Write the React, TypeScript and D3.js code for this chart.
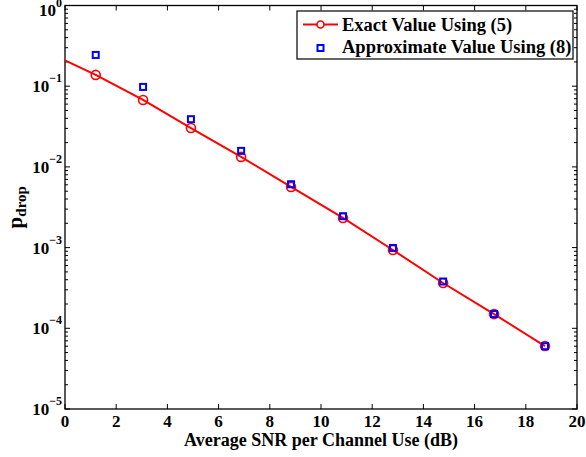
import React, { useEffect, useRef } from "react"
import * as d3 from "d3"

// SNR (dB) where markers sit
const snr = [1.2, 3.05, 4.92, 6.88, 8.83, 10.86, 12.81, 14.77, 16.76, 18.75]
// exact p_drop, eq. (5)
const exact = [0.138, 0.0675, 0.0303, 0.0133, 0.00564, 0.00233, 0.000933, 0.000364, 0.00015, 0.0000603]
// approximation, eq. (8)
const approx = [0.244, 0.098, 0.039, 0.0158, 0.0061, 0.00245, 0.00099, 0.00038, 0.00015, 0.00006]
// exact curve also starts at 0 dB
const curveStart = { x: 0, y: 0.209 }

const xTicks = [0, 2, 4, 6, 8, 10, 12, 14, 16, 18, 20]
const yExps = [0, -1, -2, -3, -4, -5]

const W = 586
const H = 457
const FONT = "Liberation Serif"

export default function App() {
  const ref = useRef<SVGSVGElement>(null)

  useEffect(() => {
    const svg = d3.select(ref.current)
    svg.selectAll("*").remove()

    const margin = { top: 5.5, right: 9, bottom: 48, left: 65 }
    const x = d3.scaleLinear().domain([0, 20]).range([margin.left, W - margin.right])
    const y = d3.scaleLog().domain([1e-5, 1]).range([H - margin.bottom, margin.top])
    const [x0, x1] = x.range()
    const [y0, y1] = y.range()

    svg.append("rect").attr("width", W).attr("height", H).attr("fill", "#fff")

    const g = svg.append("g").attr("stroke", "#000").attr("stroke-width", 1)

    // x ticks, bottom and top, pointing inward
    xTicks.forEach(t => {
      g.append("line").attr("x1", x(t)).attr("x2", x(t)).attr("y1", y0).attr("y2", y0 - 5)
      g.append("line").attr("x1", x(t)).attr("x2", x(t)).attr("y1", y1).attr("y2", y1 + 5)
    })

    // y ticks, major and minor on both sides
    yExps.forEach(e => {
      const v = Math.pow(10, e)
      g.append("line").attr("x1", x0).attr("x2", x0 + 5).attr("y1", y(v)).attr("y2", y(v))
      g.append("line").attr("x1", x1).attr("x2", x1 - 5).attr("y1", y(v)).attr("y2", y(v))
      if (e < 0) {
        d3.range(2, 10).forEach(m => {
          const mv = m * v
          g.append("line").attr("x1", x0).attr("x2", x0 + 3).attr("y1", y(mv)).attr("y2", y(mv))
          g.append("line").attr("x1", x1).attr("x2", x1 - 3).attr("y1", y(mv)).attr("y2", y(mv))
        })
      }
    })

    g.append("rect")
      .attr("x", x0)
      .attr("y", y1)
      .attr("width", x1 - x0)
      .attr("height", y0 - y1)
      .attr("fill", "none")
      .attr("stroke-width", 1.3)

    const txt = svg
      .append("g")
      .attr("font-family", FONT)
      .attr("font-weight", "bold")
      .attr("fill", "#000")

    txt
      .selectAll(".xt")
      .data(xTicks)
      .join("text")
      .attr("x", d => x(d))
      .attr("y", y0 + 18)
      .attr("text-anchor", "middle")
      .attr("font-size", 17)
      .text(d => d)

    yExps.forEach(e => {
      const t = txt
        .append("text")
        .attr("x", x0 - 3)
        .attr("y", y(Math.pow(10, e)) + (e === 0 ? 10 : 6))
        .attr("text-anchor", "end")
        .attr("font-size", 17)
      t.append("tspan").text("10")
      t.append("tspan")
        .attr("dy", e === 0 ? -9 : -10)
        .attr("font-size", 12)
        .text(e === 0 ? "0" : "\u2212" + -e)
    })

    txt
      .append("text")
      .attr("x", (x0 + x1) / 2)
      .attr("y", 446)
      .attr("text-anchor", "middle")
      .attr("font-size", 18)
      .text("Average SNR per Channel Use (dB)")

    const yl = txt
      .append("text")
      .attr("transform", `translate(22,${(y0 + y1) / 2}) rotate(-90)`)
      .attr("text-anchor", "middle")
      .attr("font-size", 21)
    yl.append("tspan").text("p")
    yl.append("tspan").attr("dy", 4).attr("font-size", 15).text("drop")

    // exact curve
    const curve = [curveStart, ...snr.map((s, i) => ({ x: s, y: exact[i] }))]
    const line = d3
      .line<{ x: number; y: number }>()
      .x(d => x(d.x))
      .y(d => y(d.y))
    svg
      .append("path")
      .datum(curve)
      .attr("d", line)
      .attr("fill", "none")
      .attr("stroke", "#ff0000")
      .attr("stroke-width", 2)

    svg
      .append("g")
      .selectAll("circle")
      .data(snr)
      .join("circle")
      .attr("cx", d => x(d))
      .attr("cy", (d, i) => y(exact[i]))
      .attr("r", 4.5)
      .attr("fill", "none")
      .attr("stroke", "#ff0000")
      .attr("stroke-width", 1.6)

    svg
      .append("g")
      .selectAll("rect")
      .data(snr)
      .join("rect")
      .attr("x", d => x(d) - 3)
      .attr("y", (d, i) => y(approx[i]) - 3)
      .attr("width", 6)
      .attr("height", 6)
      .attr("fill", "none")
      .attr("stroke", "#0000ff")
      .attr("stroke-width", 2)

    // legend
    const lg = svg.append("g").attr("transform", "translate(297,11)")
    lg.append("rect")
      .attr("width", 276)
      .attr("height", 48)
      .attr("fill", "#fff")
      .attr("stroke", "#000")
      .attr("stroke-width", 1.2)
    lg.append("line")
      .attr("x1", 6)
      .attr("x2", 41)
      .attr("y1", 13.5)
      .attr("y2", 13.5)
      .attr("stroke", "#ff0000")
      .attr("stroke-width", 2)
    lg.append("circle")
      .attr("cx", 23.5)
      .attr("cy", 13.5)
      .attr("r", 3.5)
      .attr("fill", "#fff")
      .attr("stroke", "#ff0000")
      .attr("stroke-width", 1.6)
    lg.append("rect")
      .attr("x", 20.5)
      .attr("y", 34)
      .attr("width", 6)
      .attr("height", 6)
      .attr("fill", "none")
      .attr("stroke", "#0000ff")
      .attr("stroke-width", 2)
    const lt = lg
      .append("g")
      .attr("font-family", FONT)
      .attr("font-weight", "bold")
      .attr("font-size", 18.5)
    lt.append("text").attr("x", 45).attr("y", 19.5).text("Exact Value Using (5)")
    lt.append("text").attr("x", 45).attr("y", 41.5).text("Approximate Value Using (8)")
  }, [])

  return (
    <svg
      ref={ref}
      width={W}
      height={H}
      style={{ position: "absolute", left: 0, top: 0 }}
    ></svg>
  )
}
